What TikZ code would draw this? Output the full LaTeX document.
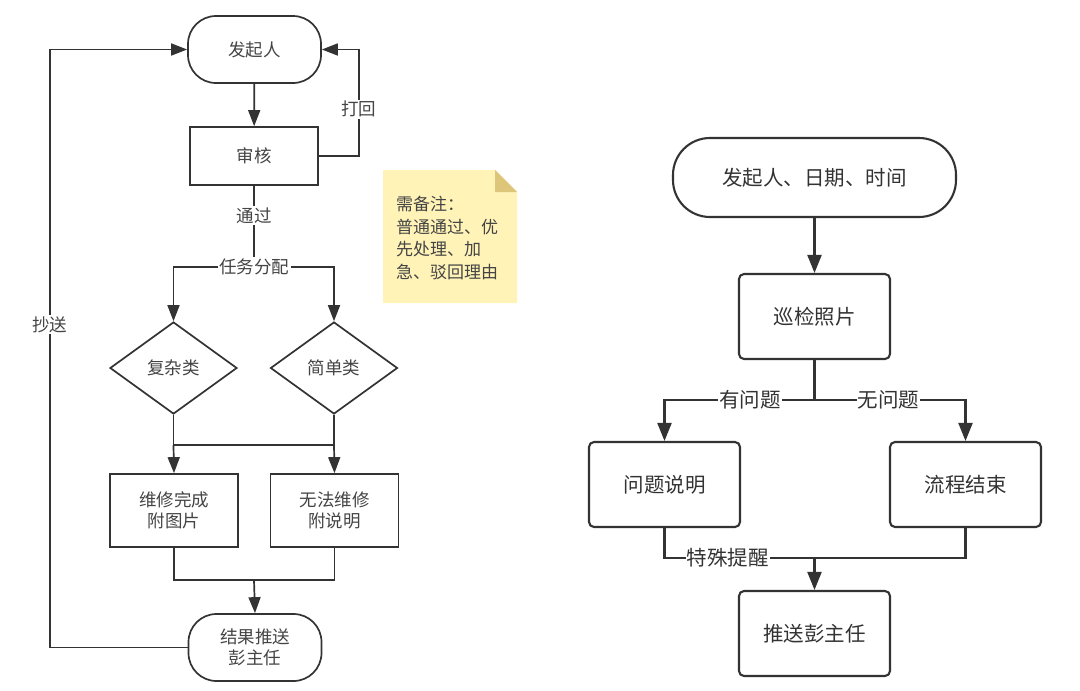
\documentclass[tikz,border=0pt]{standalone}
\usepackage{fontspec}
\setmainfont{Noto Sans CJK SC}
\usetikzlibrary{arrows.meta,shapes.geometric,calc}
\definecolor{ln}{HTML}{333333}
\definecolor{txl}{HTML}{444444}
\definecolor{notefill}{HTML}{FFF3B8}
\definecolor{notefold}{HTML}{DDC57A}
\begin{document}
\begin{tikzpicture}[x=1pt,y=-1pt,
  arr/.style={-{Triangle[length=16pt,width=12pt]}},
  arrr/.style={-{Triangle[length=18pt,width=14pt]}},
  lnl/.style={draw=ln,line width=1.7pt},
  lnr/.style={draw=ln,line width=2.1pt},
  lbox/.style={lnl,rectangle,minimum width=128pt,minimum height=58pt,inner sep=0pt,text=txl,font=\fontsize{17.5}{21}\selectfont,align=center},
  lterm/.style={lbox,rounded corners=28pt,minimum width=133pt,minimum height=67pt},
  ldia/.style={lnl,diamond,minimum width=127pt,minimum height=92pt,inner sep=0pt,text=txl,font=\fontsize{17.5}{21}\selectfont},
  rbox/.style={lnr,rectangle,rounded corners=5pt,minimum width=151pt,minimum height=85pt,inner sep=0pt,text=ln,font=\fontsize{20.5}{24}\selectfont},
  rterm/.style={rbox,rounded corners=37pt,minimum width=283pt,minimum height=79pt},
  llab/.style={fill=white,inner sep=1.5pt,text=txl,font=\fontsize{17.5}{21}\selectfont},
  rlab/.style={fill=white,inner sep=1pt,text=ln,font=\fontsize{20.5}{24}\selectfont}]
\useasboundingbox (0,0) rectangle (1080,691);
\fill[white] (0,0) rectangle (1080,691);

% ---------- left chart ----------
\node[lterm] (s1) at (254.5,49.5) {发起人};
\node[lbox] (r1) at (254,156) {审核};
\node[ldia] (d1) at (173.5,368) {复杂类};
\node[ldia] (d2) at (334,368) {简单类};
\node[lbox,minimum height=73pt] (b1) at (174,510.5) {维修完成\\附图片};
\node[lbox,minimum height=73pt] (b2) at (334.5,510.5) {无法维修\\附说明};
\node[lterm] (t2) at (255,647.5) {结果推送\\彭主任};

\coordinate (split) at (254,267);
\coordinate (m1) at (173.5,445);
\coordinate (m2) at (334,445);
\coordinate (j1) at (254,580);

\draw[lnl,arr] (s1) -- (r1);
\draw[lnl,arr] (r1.east) -- ++(40,0) |- node[llab,pos=0.22]{打回} (s1.east);
\draw[lnl] (r1.south) -- node[llab,pos=0.37]{通过} (split);
\draw[lnl,arr] (split) -| (d1.north);
\draw[lnl,arr] (split) -| (d2.north);
\node[llab] (lab1) at (split) {任务分配};
\draw[lnl] (d1.south) -- (m1) -- (m2) -- (d2.south);
\draw[lnl,arr] (m1) -- (b1.north);
\draw[lnl,arr] (m2) -- (b2.north);
\draw[lnl] (b1.south) |- (j1) -| (b2.south);
\draw[lnl,arr] (j1) -- (t2.north);
\draw[lnl,arr] (t2.west) -- ++(-138,0) |- node[llab,pos=0.27]{抄送} (s1.west);

% note
\fill[notefill] (383,170) -- (495,170) -- (517,192) -- (517,303) -- (383,303) -- cycle;
\fill[notefold] (495,170) -- (517,192) -- (495,192) -- cycle;
\node[anchor=north west,align=left,inner sep=0pt,text=txl,font=\fontsize{17}{22.5}\selectfont] (note) at (396,196) {需备注：\\普通通过、优\\先处理、加\\急、驳回理由};

% ---------- right chart ----------
\node[rterm] (a1) at (814.5,177.5) {发起人、日期、时间};
\node[rbox] (a2) at (814.5,316.5) {巡检照片};
\node[rbox] (a3) at (664.5,484.5) {问题说明};
\node[rbox] (a4) at (965.5,484.5) {流程结束};
\node[rbox] (a5) at (814.5,633.5) {推送彭主任};

\coordinate (rs) at (814.5,400);
\coordinate (j2) at (814.5,558);

\draw[lnr,arrr] (a1) -- (a2);
\draw[lnr] (a2) -- (rs);
\draw[lnr,arrr] (rs) -| node[rlab,pos=0.215]{有问题} (a3.north);
\draw[lnr,arrr] (rs) -| node[rlab,pos=0.245]{无问题} (a4.north);
\draw[lnr] (a3.south) |- node[rlab,pos=0.71]{特殊提醒} (j2);
\draw[lnr] (a4.south) |- (j2);
\draw[lnr,arrr] (j2) -- (a5);
\end{tikzpicture}
\end{document}
